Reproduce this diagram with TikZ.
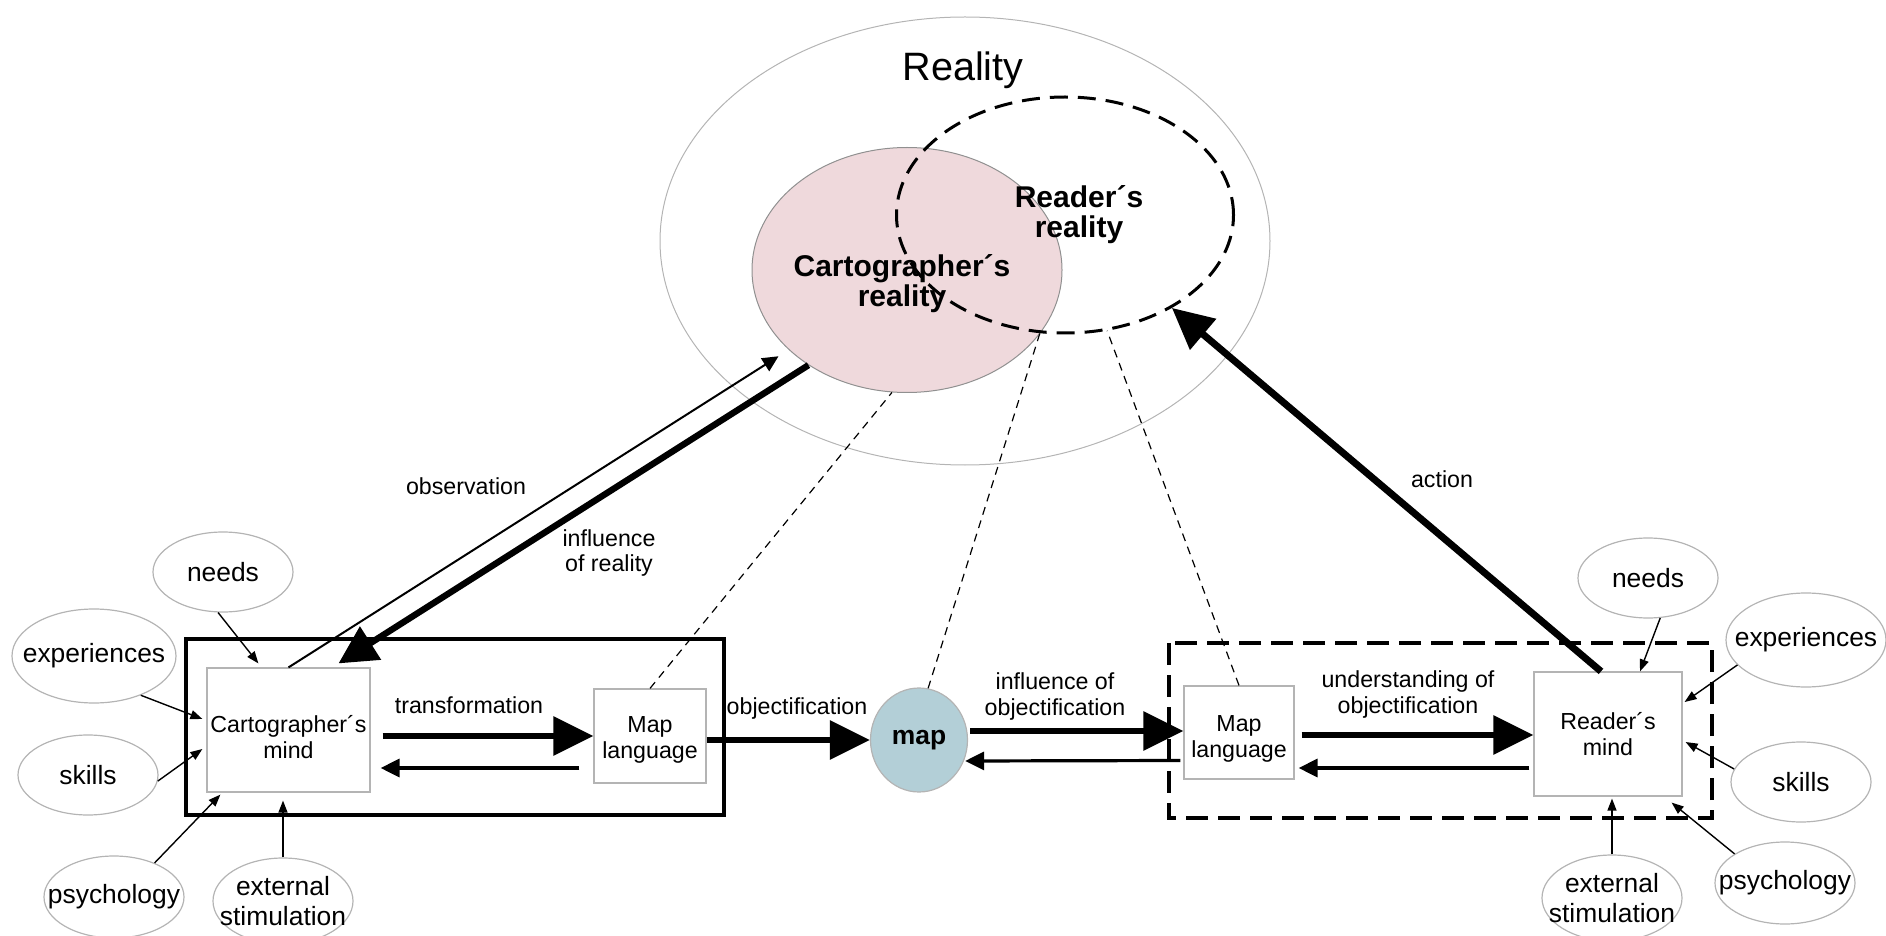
\documentclass[tikz,border=0pt]{standalone}
\usepackage{fontspec}
\setmainfont{Liberation Sans}
\usetikzlibrary{shapes.geometric,arrows.meta}
\definecolor{cartpink}{HTML}{EFD9DC}
\definecolor{mapblue}{HTML}{B3CFD7}
\definecolor{rim}{HTML}{B4B4B4}
\newcommand{\boxfont}{\fontsize{11.6}{13}\selectfont}
\newcommand{\bubfont}{\fontsize{13.2}{15}\selectfont}

\begin{document}
\begin{tikzpicture}[x=0.5pt,y=-0.5pt]
\tikzset{bubble/.style={ellipse,draw=rim,line width=0.6pt,inner sep=0pt,minimum width=70pt,minimum height=40pt,label={[bubtext]center:#1}}}
\tikzset{bubtext/.style={font=\bubfont,align=center}}
\tikzset{mindbox/.style={draw=rim,line width=0.6pt,fill=white,inner sep=0pt}}
\tikzset{lbl/.style={font=\boxfont,align=center,inner sep=0pt}}
\tikzset{bold/.style={font=\fontsize{15}{15}\selectfont\bfseries,align=center,inner sep=0pt}}
\tikzset{bigarrow/.style={line width=3pt,-{Triangle[length=20pt,width=19pt]}}}
\tikzset{backarrow/.style={line width=1.6pt,-{Triangle[length=9.5pt,width=9pt]}}}
\tikzset{feed/.style={line width=0.7pt,-{Triangle[length=6pt,width=4.5pt]}}}
\tikzset{guide/.style={line width=0.6pt,dash pattern=on 4pt off 3pt}}
\useasboundingbox (0,0) rectangle (1886,936);

% reality
\node[ellipse,draw=rim,line width=0.5pt,minimum width=305pt,minimum height=224pt] (reality) at (965,241) {};
\node[ellipse,draw=rim!80!black,line width=0.5pt,fill=cartpink,minimum width=155pt,minimum height=122.5pt] (cartreal) at (907,270) {};
\node[ellipse,draw,line width=1.5pt,dash pattern=on 9pt off 5pt,minimum width=168.5pt,minimum height=118pt] (readreal) at (1065,215) {};
\node[font=\fontsize{19.8}{22}\selectfont,inner sep=0pt] (realitylbl) at (963,70) {Reality};
\node[bold] (cartlbl) at (902,284) {Cartographer´s\\reality};
\node[bold] (readlbl) at (1079,215) {Reader´s\\reality};

% frames
\draw[line width=2pt] (186,639) rectangle (724,815);
\draw[line width=2pt,dash pattern=on 11pt off 5pt] (1169,643) rectangle (1712,818);

\node[mindbox,minimum width=81.5pt,minimum height=62pt,label={[lbl,yshift=-3.5pt]center:{Cartographer´s\\mind}}] (cmind) at (288.5,730) {};
\node[mindbox,minimum width=56pt,minimum height=47pt,label={[lbl,yshift=-2pt]center:{Map\\language}}] (mlangL) at (650,736) {};
\node[ellipse,draw=rim,line width=0.6pt,fill=mapblue,inner sep=0pt,minimum width=48.5pt,minimum height=52pt,font=\bubfont\bfseries] (map) at (919,740) {map};
\node[mindbox,minimum width=55pt,minimum height=46.5pt,label={[lbl,yshift=-3pt]center:{Map\\language}}] (mlangR) at (1239,732.5) {};
\node[mindbox,minimum width=74pt,minimum height=62pt,label={[lbl]center:{Reader´s\\mind}}] (rmind) at (1608,734) {};

% influences
\node[bubble=needs] (needsL) at (223,572) {};
\node[bubble=experiences,minimum width=82pt,minimum height=47pt] (expL) at (94,656) {};
\node[bubble=skills] (skillsL) at (88,775) {};
\node[bubble=psychology,minimum height=41pt] (psyL) at (114,897) {};
\node[bubble={external\\stimulation},minimum height=43pt] (extL) at (283,901) {};
\node[bubble=needs] (needsR) at (1648,578) {};
\node[bubble=experiences,minimum width=80pt,minimum height=47pt] (expR) at (1806,640) {};
\node[bubble=skills] (skillsR) at (1801,782) {};
\node[bubble=psychology,minimum height=41pt] (psyR) at (1785,883) {};
\node[bubble={external\\stimulation},minimum height=43pt] (extR) at (1612,898) {};

\draw[feed] (needsL.263) -- ([xshift=26pt,yshift=2pt]cmind.north west);
\draw[feed] (expL.320) -- ([xshift=-2pt,yshift=5.5pt]cmind.west);
\draw[feed] (skillsL.355) -- ([xshift=-2pt,yshift=-9.5pt]cmind.west);
\draw[feed] (psyL.40) -- ([xshift=7pt,yshift=-1pt]cmind.south west);
\draw[feed,shorten >=4pt] (extL.north) -- (extL.north |- cmind.south);
\draw[feed] (needsR.287) -- ([xshift=16pt]rmind.north);
\draw[feed] (expR.200) -- ([xshift=1pt,yshift=16pt]rmind.east);
\draw[feed] (skillsR.169) -- ([xshift=1.5pt,yshift=-4pt]rmind.east);
\draw[feed] (psyR.150) -- ([xshift=-5.5pt,yshift=-3pt]rmind.south east);
\draw[feed,shorten >=1pt] (extR.north) -- (extR.north |- rmind.south);

% dashed links
\draw[guide] (mlangL.north) -- (cartreal.263);
\draw[guide] (map.80) -- (readreal.258);
\draw[guide] (mlangR.north) -- (readreal.290);

% flows
\draw[line width=1pt,-{Triangle[length=8pt,width=7.5pt]},shorten >=6pt] (cmind.north) -- (cartreal.214);
\draw[line width=3.2pt,-{Triangle[length=19pt,width=19pt]}] (cartreal.224) -- ([xshift=25pt,yshift=2pt]cmind.north);
\draw[line width=3.5pt,-{Triangle[length=20.5pt,width=19.5pt]}] ([xshift=-3.5pt]rmind.north) -- (readreal.319);
\draw[bigarrow] ([xshift=6pt,yshift=-3pt]cmind.east) -- (mlangL.west);
\draw[backarrow] ([xshift=-7pt,yshift=-16pt]mlangL.west) -- ([xshift=5pt,yshift=-19pt]cmind.east);
\draw[bigarrow] ([yshift=-2pt]mlangL.east) -- (map.west);
\draw[bigarrow] ([xshift=1pt,yshift=4.5pt]map.east) -- ([yshift=0.75pt]mlangR.west);
\draw[backarrow] ([xshift=-1.5pt,yshift=-14pt]mlangR.west) -- ([xshift=-1.5pt,yshift=-10.5pt]map.east);
\draw[bigarrow] ([xshift=3.5pt,yshift=-1.25pt]mlangR.east) -- ([yshift=-0.5pt]rmind.west);
\draw[backarrow] ([xshift=-2pt,yshift=-17pt]rmind.west) -- ([xshift=2pt,yshift=-17.75pt]mlangR.east);

\node[lbl] (obslbl) at (466,486) {observation};
\node[lbl] (inflbl) at (609,553) {influence\\of reality};
\node[lbl] (translbl) at (469,705) {transformation};
\node[lbl] (objlbl) at (797,708) {objectification};
\node[lbl] (infobjlbl) at (1055,696) {influence of\\objectification};
\node[lbl] (undlbl) at (1408,694) {understanding of\\objectification};
\node[lbl] (actlbl) at (1442,479) {action};
\end{tikzpicture}
\end{document}
